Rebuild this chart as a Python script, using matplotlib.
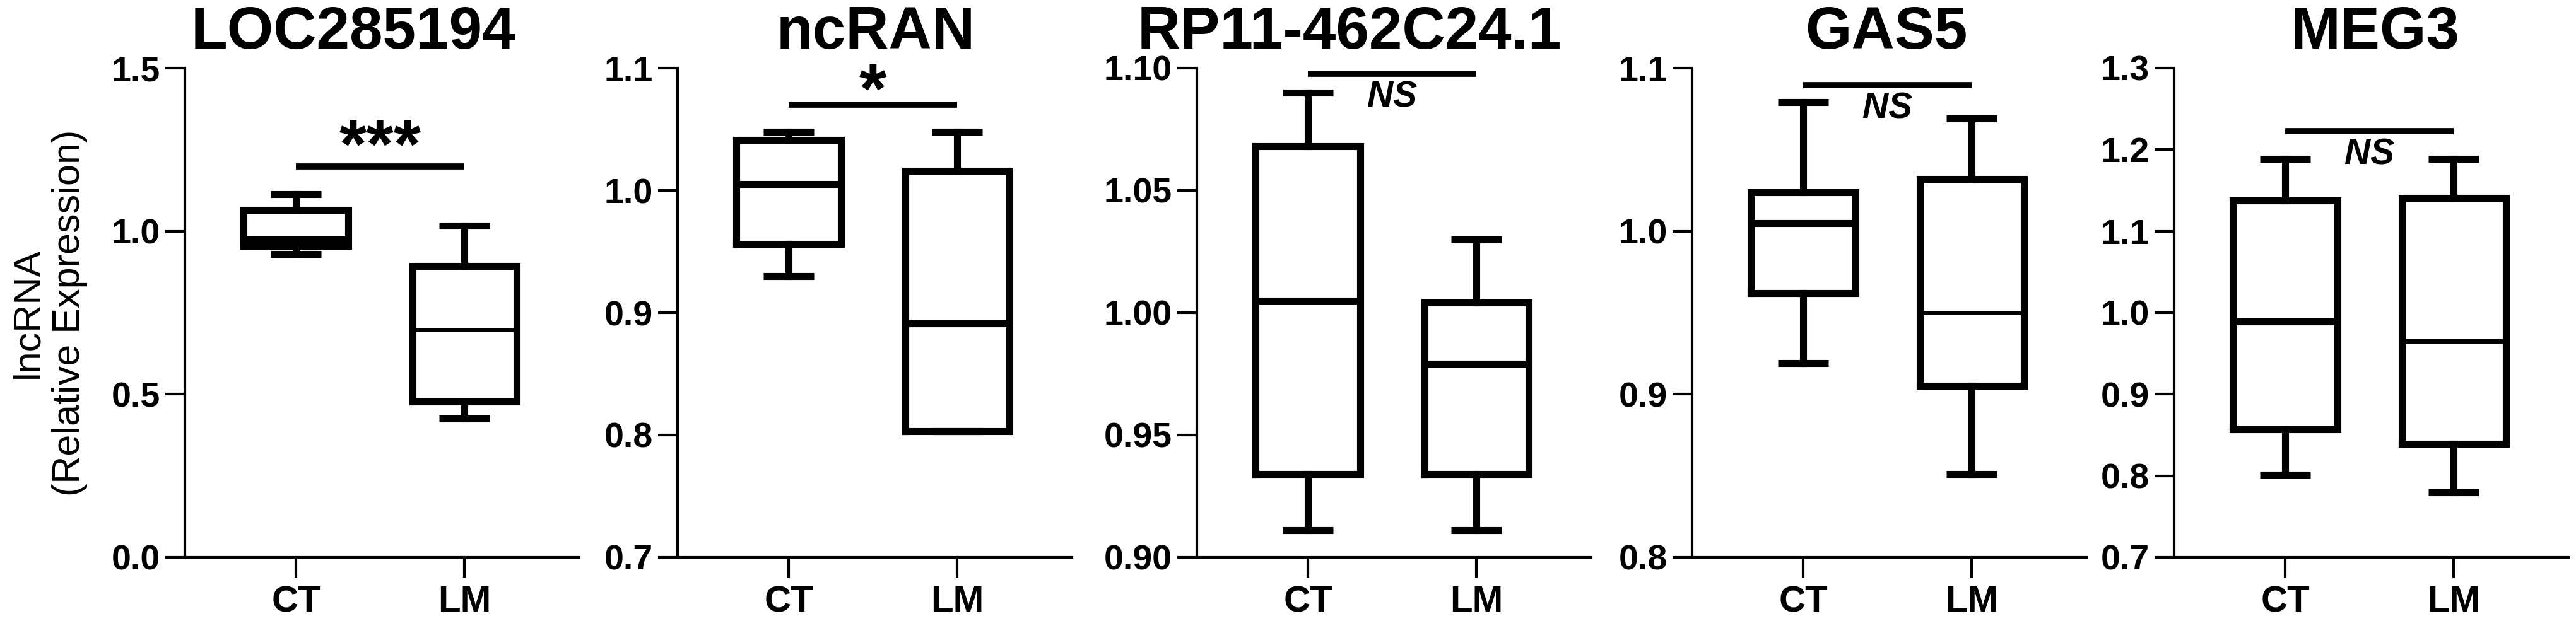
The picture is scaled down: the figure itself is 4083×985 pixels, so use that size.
import matplotlib
matplotlib.use('Agg')
import matplotlib.pyplot as plt
from matplotlib.ticker import FormatStrFormatter

plt.rcParams['font.family'] = ['Liberation Sans', 'DejaVu Sans']
plt.rcParams['font.weight'] = 'bold'

genes = ['LOC285194', 'ncRAN', 'RP11-462C24.1', 'GAS5', 'MEG3']
groups = ['CT', 'LM']

# [whisker low, Q1, median, Q3, whisker high]
ct_stats = [
    [0.930, 0.954, 0.975, 1.066, 1.114],
    [0.930, 0.956, 1.005, 1.041, 1.048],
    [0.911, 0.934, 1.005, 1.068, 1.090],
    [0.919, 0.962, 1.005, 1.024, 1.079],
    [0.801, 0.857, 0.989, 1.138, 1.189],
]
lm_stats = [
    [0.425, 0.477, 0.698, 0.893, 1.017],
    [0.803, 0.803, 0.891, 1.016, 1.048],
    [0.911, 0.934, 0.979, 1.004, 1.030],
    [0.851, 0.905, 0.950, 1.032, 1.069],
    [0.780, 0.839, 0.965, 1.141, 1.189],
]
sig_y = [1.199, 1.070, 1.0976, 1.0896, 1.223]
sig_text = ['***', '*', 'NS', 'NS', 'NS']
y_ticks = [
    [0.0, 0.5, 1.0, 1.5],
    [0.7, 0.8, 0.9, 1.0, 1.1],
    [0.90, 0.95, 1.00, 1.05, 1.10],
    [0.8, 0.9, 1.0, 1.1],
    [0.7, 0.8, 0.9, 1.0, 1.1, 1.2, 1.3],
]
tick_fmt = ['%.1f', '%.1f', '%.2f', '%.1f', '%.1f']

# layout (pixels of the 4083x985 canvas)
W, H = 4083, 985
lefts = [293, 1074, 1897, 2682, 3446]
ax_w = 625
ax_top, ax_bot = 108, 884
title_x = [0.427, 0.502, 0.387, 0.493, 0.51]
sig_off = [19, 12, -27, -27, -27]
lm_med_lw = [5, 8, 8, 5, 5]

fig = plt.figure(figsize=(W / 100, H / 100), dpi=100)

for i, gene in enumerate(genes):
    ax = fig.add_axes([lefts[i] / W, 1 - ax_bot / H, ax_w / W, (ax_bot - ax_top) / H])
    stats = []
    for g, s in zip(groups, [ct_stats[i], lm_stats[i]]):
        stats.append(dict(label=g, whislo=s[0], q1=s[1], med=s[2], q3=s[3], whishi=s[4], fliers=[]))
    line = dict(color='black', linewidth=8, solid_joinstyle='miter', solid_capstyle='projecting')
    bp = ax.bxp(stats, positions=[1, 2], widths=0.62, capwidths=0.3, showfliers=False,
                boxprops=line, whiskerprops=line, capprops=dict(line, solid_capstyle='butt'),
                medianprops=dict(color='black', linewidth=8, solid_capstyle='butt'),
                manage_ticks=False)
    bp['medians'][1].set_linewidth(lm_med_lw[i])

    ax.set_xlim(0.34, 2.68)
    ax.set_ylim(y_ticks[i][0], y_ticks[i][-1])
    ax.set_yticks(y_ticks[i])
    ax.yaxis.set_major_formatter(FormatStrFormatter(tick_fmt[i]))
    ax.set_xticks([1, 2])
    ax.set_xticklabels(groups)
    for sp in ['top', 'right']:
        ax.spines[sp].set_visible(False)
    for sp in ['left', 'bottom']:
        ax.spines[sp].set_linewidth(3)
    ax.tick_params(axis='y', length=22, width=3, pad=6, labelsize=40)
    ax.tick_params(axis='x', length=24, width=3, pad=8, labelsize=42)

    ax.text(title_x[i], 1.04, gene, transform=ax.transAxes, ha='center', va='baseline',
            fontsize=68, fontweight='bold')

    ax.plot([1, 2], [sig_y[i], sig_y[i]], color='black', linewidth=7, solid_capstyle='butt')
    if sig_text[i] == 'NS':
        ax.annotate('NS', xy=(1.5, sig_y[i]), xytext=(0, sig_off[i]), textcoords='offset points',
                    ha='center', va='center', fontsize=41, fontweight='bold', fontstyle='italic')
    else:
        ax.annotate(sig_text[i], xy=(1.5, sig_y[i]), xytext=(0, sig_off[i]), textcoords='offset points',
                    ha='center', va='center', fontsize=80, fontweight='bold')

fig.text(78 / W, 1 - 496 / H, 'lncRNA\n(Relative Expression)', rotation=90, ha='center', va='center',
         multialignment='center', fontsize=44, fontweight='normal')

fig.savefig('out.png', dpi=100)
